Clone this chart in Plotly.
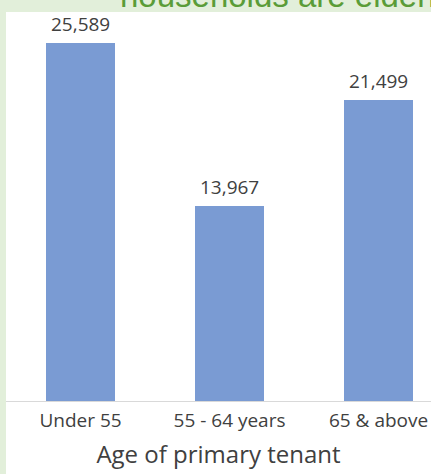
import plotly.graph_objects as go

# Households by age of the primary tenant
categories = ["Under 55", "55 - 64 years", "65 & above"]
households = [25589, 13967, 21499]
value_labels = ["25,589", "13,967", "21,499"]

W, H = 431, 474
M_L, M_R, M_T, M_B = 6, 0, 12, 73
plot_h = H - M_T - M_B

BAR_COLOR = "#7a9bd3"
TEXT_COLOR = "#404040"
BG_GREEN = "#e2efda"
TITLE_GREEN = "#5a9c38"
FONT = "Open Sans, Noto Sans, sans-serif"

fig = go.Figure(
    go.Bar(
        x=categories,
        y=households,
        width=0.463,
        marker=dict(color=BAR_COLOR, line=dict(width=0)),
        hoverinfo="skip",
    )
)

# value labels above each bar
annotations = [
    dict(
        x=c, y=v, xref="x", yref="y", text=t, showarrow=False,
        yanchor="bottom", yshift=4,
        font=dict(family=FONT, size=19, color=TEXT_COLOR),
    )
    for c, v, t in zip(categories, households, value_labels)
]

# heading text running along the top edge
annotations.append(
    dict(
        x=(118 - M_L) / (W - M_L - M_R), y=1 + (M_T - 16) / plot_h,
        xref="paper", yref="paper", xanchor="left", yanchor="bottom",
        text="households are elderly", showarrow=False,
        font=dict(family="Liberation Sans, Arial, sans-serif", size=33, color=TITLE_GREEN),
    )
)

fig.update_layout(
    width=W, height=H,
    margin=dict(l=M_L, r=M_R, t=M_T, b=M_B, pad=0),
    paper_bgcolor=BG_GREEN,
    plot_bgcolor="rgba(0,0,0,0)",
    showlegend=False,
    bargap=0,
    annotations=annotations,
    shapes=[
        dict(
            type="rect", xref="paper", yref="paper",
            x0=0, x1=1, y0=-M_B / plot_h, y1=1,
            fillcolor="white", line=dict(width=0), layer="below",
        )
    ],
    xaxis=dict(
        range=[-0.5, 2.352],
        showline=True, linecolor="#d9d9d9", linewidth=1,
        showgrid=False, ticks="", zeroline=False,
        tickfont=dict(family=FONT, size=19, color=TEXT_COLOR),
        ticklabelstandoff=2,
        title=dict(
            text="Age of primary tenant",
            font=dict(family=FONT, size=24, color=TEXT_COLOR),
            standoff=14,
        ),
        fixedrange=True,
    ),
    yaxis=dict(
        range=[0, 27805],
        visible=False, showgrid=False, zeroline=False,
        fixedrange=True,
    ),
)

fig.write_html("out.html")
